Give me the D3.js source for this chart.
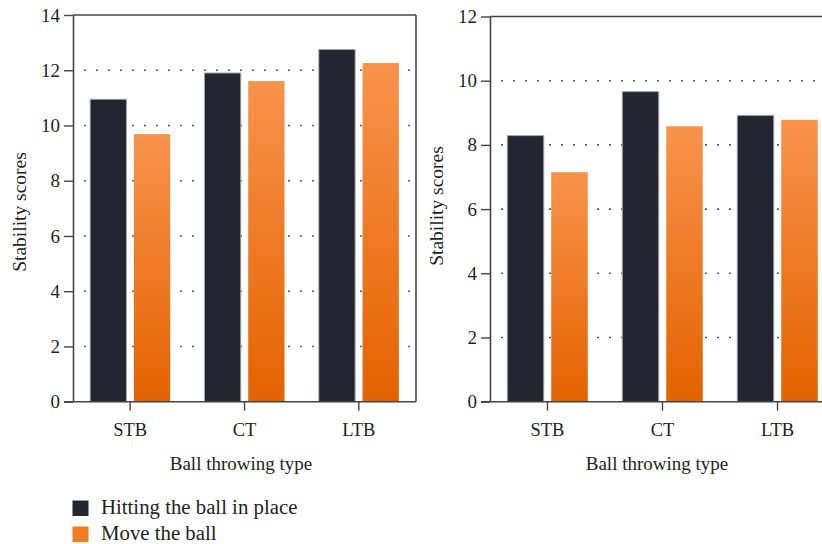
<!DOCTYPE html>
<html>
<head>
<meta charset="utf-8">
<script src="https://cdn.jsdelivr.net/npm/d3@7"></script>
<style>
  html, body { margin: 0; padding: 0; background: #fff; }
  svg { display: block; }
  text { font-family: "Liberation Serif", "DejaVu Serif", serif; fill: #231f20; }
</style>
</head>
<body>
<svg id="chart" width="822" height="544"></svg>
<script>
// ---- data ----
const categories = ["STB", "CT", "LTB"];
const seriesNames = ["Hitting the ball in place", "Move the ball"];
const leftHitting = [10.95, 11.9, 12.75];
const leftMove = [9.69, 11.61, 12.26];
const rightHitting = [8.29, 9.66, 8.92];
const rightMove = [7.15, 8.58, 8.78];
const leftTicks = [0, 2, 4, 6, 8, 10, 12, 14];
const rightTicks = [0, 2, 4, 6, 8, 10, 12];
const yTitle = "Stability scores";
const xTitle = "Ball throwing type";

const colorDark = "#23262f";
const svg = d3.select("#chart");

const defs = svg.append("defs");
const grad = defs.append("linearGradient").attr("id", "orangeGrad")
  .attr("x1", 0).attr("y1", 0).attr("x2", 0).attr("y2", 1);
grad.append("stop").attr("offset", "0%").attr("stop-color", "#f8934c");
grad.append("stop").attr("offset", "100%").attr("stop-color", "#e46200");
const fills = [colorDark, "url(#orangeGrad)"];

function panel(cfg) {
  const g = svg.append("g");
  const x0 = d3.scaleBand().domain(categories).range([cfg.left, cfg.right])
    .paddingInner(0.3).paddingOuter(0.15);
  const x1 = d3.scaleBand().domain(seriesNames).range([0, x0.bandwidth()]).paddingInner(0.17);
  const y = d3.scaleLinear().domain([0, d3.max(cfg.ticks)]).range([cfg.bottom, cfg.top]);

  // dotted grid
  const gridTicks = cfg.ticks.filter(t => t > 0 && t < d3.max(cfg.ticks));
  g.append("g").selectAll("line").data(gridTicks).join("line")
    .attr("x1", cfg.left + 11.25).attr("x2", cfg.right)
    .attr("y1", d => y(d)).attr("y2", d => y(d))
    .attr("stroke", "#222").attr("stroke-width", 1.6)
    .attr("stroke-dasharray", "1.5 10.5");

  // bars
  const data = categories.map((c, i) => ({ c, vals: [cfg.hit[i], cfg.move[i]] }));
  const grp = g.append("g").selectAll("g").data(data).join("g")
    .attr("transform", d => `translate(${x0(d.c)},0)`);
  grp.selectAll("rect").data(d => d.vals.map((v, k) => ({ v, k }))).join("rect")
    .attr("x", d => x1(seriesNames[d.k]))
    .attr("width", x1.bandwidth())
    .attr("y", d => y(d.v))
    .attr("height", d => y(0) - y(d.v))
    .attr("fill", d => fills[d.k])
    .attr("stroke", d => d.k === 0 ? "#a4a6ac" : "none")
    .attr("stroke-width", 1);

  // frame top/right
  g.append("line").attr("x1", cfg.left).attr("x2", cfg.right)
    .attr("y1", cfg.top).attr("y2", cfg.top)
    .attr("stroke", "#444").attr("stroke-width", 1.6);
  g.append("line").attr("x1", cfg.right).attr("x2", cfg.right)
    .attr("y1", cfg.top).attr("y2", cfg.bottom)
    .attr("stroke", "#444").attr("stroke-width", 1.6);

  // y axis
  const ya = g.append("g").attr("transform", `translate(${cfg.left},0)`)
    .call(d3.axisLeft(y).tickValues(cfg.ticks).tickSize(9).tickPadding(4).tickSizeOuter(0));
  ya.select(".domain").attr("stroke", "#444").attr("stroke-width", 1.6);
  ya.selectAll(".tick line").attr("stroke", "#444").attr("stroke-width", 1.4);
  ya.selectAll(".tick text").style("font-size", "19px")
    .style("font-family", "Liberation Serif").attr("fill", "#231f20");

  // x axis
  const xa = g.append("g").attr("transform", `translate(0,${cfg.bottom})`)
    .call(d3.axisBottom(x0).tickSize(9).tickPadding(12).tickSizeOuter(0));
  xa.select(".domain").attr("d", `M${cfg.left - 9},0H${cfg.right}`)
    .attr("stroke", "#444").attr("stroke-width", 1.6);
  xa.selectAll(".tick line").attr("stroke", "#444").attr("stroke-width", 1.4);
  xa.selectAll(".tick text").style("font-size", "18.5px")
    .style("font-family", "Liberation Serif").attr("fill", "#231f20");

  // titles
  g.append("text").attr("x", cfg.xTitleX).attr("y", 470)
    .attr("text-anchor", "middle").style("font-size", "19px").text(xTitle);
  g.append("text").attr("transform", `translate(${cfg.yTitleX},${cfg.yTitleY}) rotate(-90)`)
    .attr("text-anchor", "middle").style("font-size", "19.5px").text(yTitle);
}

panel({ left: 73, right: 416, top: 15, bottom: 401.7, ticks: leftTicks,
  hit: leftHitting, move: leftMove, xTitleX: 241, yTitleX: 26, yTitleY: 212 });
panel({ left: 490, right: 835, top: 16.5, bottom: 401.7, ticks: rightTicks,
  hit: rightHitting, move: rightMove, xTitleX: 657, yTitleX: 443, yTitleY: 206 });

// legend
const lg = svg.append("g");
const items = lg.selectAll("g").data(seriesNames).join("g")
  .attr("transform", (d, i) => `translate(72.5,${500.5 + i * 26})`);
items.append("rect").attr("width", 16).attr("height", 15.5)
  .attr("fill", (d, i) => i === 0 ? colorDark : "#f07c22");
items.append("text").attr("x", 28.5).attr("y", 13.5)
  .style("font-size", "20.8px").text(d => d);
</script>
</body>
</html>
